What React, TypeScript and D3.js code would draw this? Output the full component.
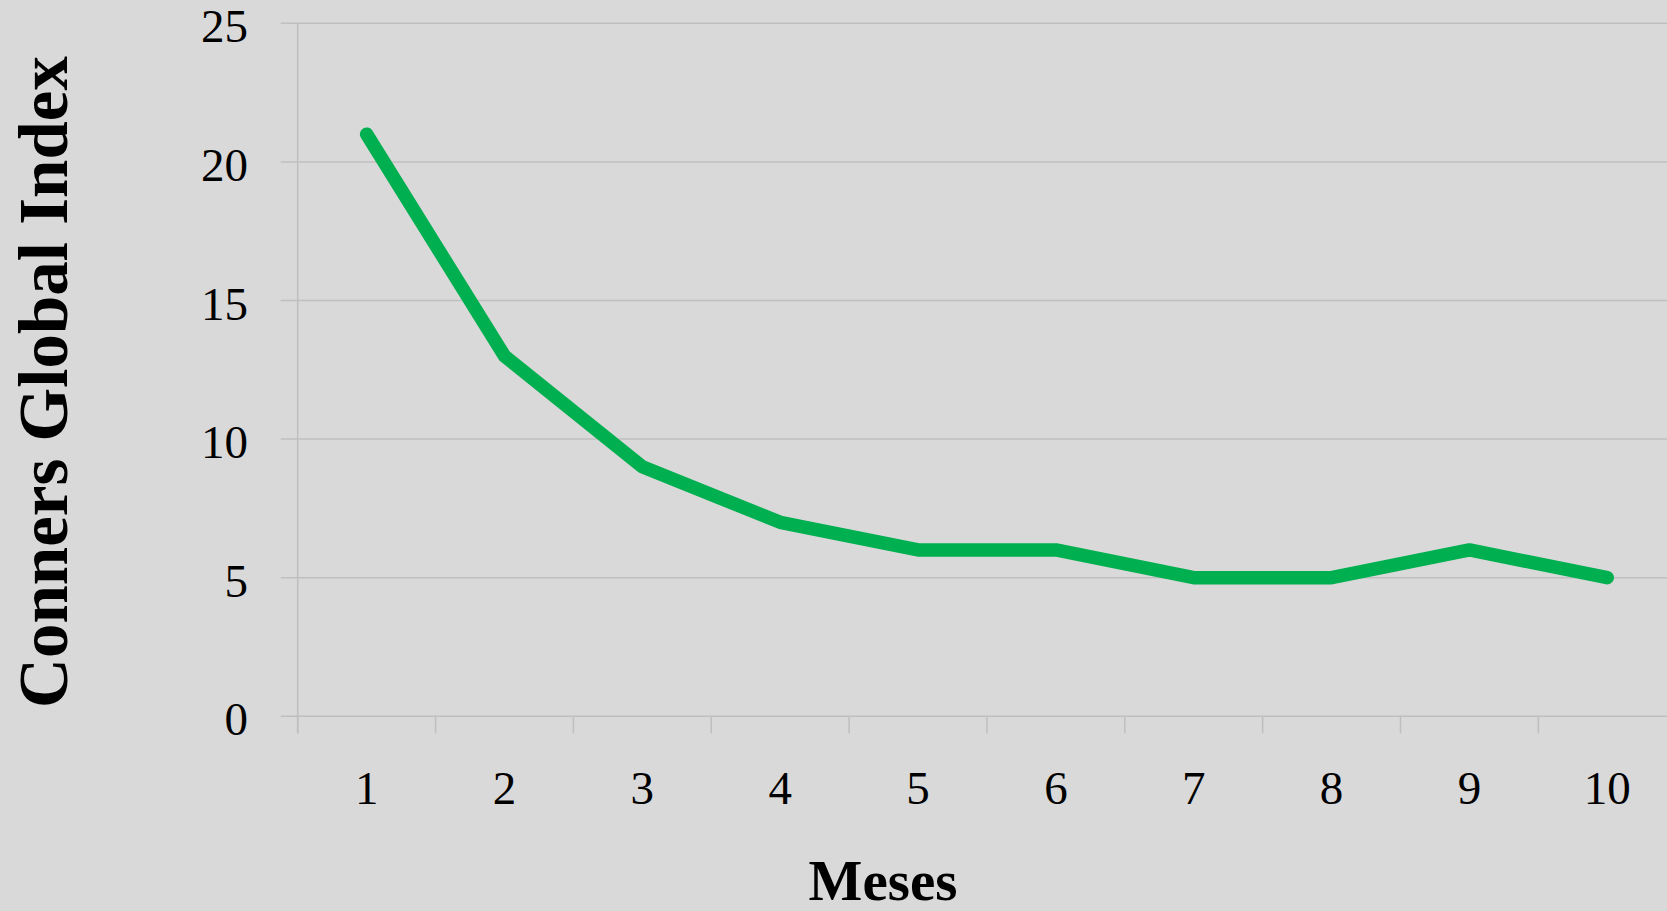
import React from "react";
import * as d3 from "d3";

const months = ["1", "2", "3", "4", "5", "6", "7", "8", "9", "10"];
const values = [21, 13, 9, 7, 6, 6, 5, 5, 6, 5];
const yTicks = [0, 5, 10, 15, 20, 25];
const yTitle = "Conners Global Index";
const xTitle = "Meses";

const W = 1667;
const H = 911;
const left = 297.7;
const step = 137.85;
const top = 23.3;
const bottom = 716.3;

export default function App() {
  const x = d3.scaleLinear().domain([0, months.length]).range([left, left + step * months.length]);
  const y = d3.scaleLinear().domain([0, 25]).range([bottom, top]);
  const line = d3
    .line<number>()
    .x((_, i) => x(i + 0.5))
    .y((d) => y(d));
  const grid = "#BFBFBF";
  const font = "'Liberation Serif', 'Times New Roman', serif";
  const boundaries = d3.range(0, months.length + 1);
  return (
    <svg
      width={W}
      height={H}
      style={{ position: "absolute", left: 0, top: 0, display: "block" }}
    >
      <rect x={0} y={0} width={W} height={H} fill="#D9D9D9" />
      {yTicks.map((t) => (
        <line key={"g" + t} x1={left - 17} x2={W} y1={y(t)} y2={y(t)} stroke={grid} strokeWidth={1.5} />
      ))}
      <line x1={left} x2={left} y1={top} y2={bottom + 17} stroke={grid} strokeWidth={1.5} />
      {boundaries.map((b) => (
        <line key={"t" + b} x1={x(b)} x2={x(b)} y1={bottom} y2={bottom + 17} stroke={grid} strokeWidth={1.5} />
      ))}
      {yTicks.map((t) => (
        <text
          key={"yl" + t}
          x={248}
          y={y(t) + 19}
          textAnchor="end"
          fontFamily={font}
          fontSize={47}
          fill="#000"
        >
          {t}
        </text>
      ))}
      {months.map((m, i) => (
        <text
          key={"xl" + m}
          x={x(i + 0.5)}
          y={804}
          textAnchor="middle"
          fontFamily={font}
          fontSize={47}
          fill="#000"
        >
          {m}
        </text>
      ))}
      <path
        d={line(values) || ""}
        fill="none"
        stroke="#00B050"
        strokeWidth={13.5}
        strokeLinecap="round"
        strokeLinejoin="round"
      />
      <text
        transform={`translate(${67},${382}) rotate(-90)`}
        textAnchor="middle"
        fontFamily={font}
        fontWeight="bold"
        fontSize={69}
        fill="#000"
      >
        {yTitle}
      </text>
      <text
        x={883}
        y={900}
        textAnchor="middle"
        fontFamily={font}
        fontWeight="bold"
        fontSize={57}
        fill="#000"
      >
        {xTitle}
      </text>
    </svg>
  );
}
